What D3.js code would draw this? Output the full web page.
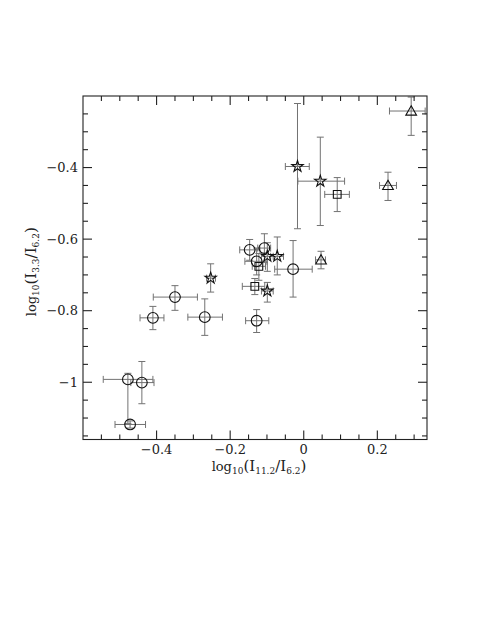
<!DOCTYPE html>
<meta charset="utf-8">
<script src="https://d3js.org/d3.v7.min.js"></script>
<style>
  body { margin: 0; background: #fff; }
  text { font-family: "DejaVu Serif", "Liberation Serif", serif; fill: #222; }
</style>
<div id="my_dataviz"></div>
<script>

// marker type of each object
var markerType = ["tri","star","star","square","tri","tri","circle","circle","circle","circle",
                  "square","star","star","square","star","circle","star","circle","circle","circle",
                  "circle","circle","circle"];
// log10(I11.2/I6.2)
var xVal  = [0.292,-0.017,0.045,0.091,0.229,0.047,-0.029,-0.147,-0.107,-0.128,
             -0.122,-0.099,-0.072,-0.133,-0.099,-0.128,-0.253,-0.269,-0.350,-0.410,
             -0.478,-0.440,-0.472];
var xLow  = [0.233,-0.050,-0.016,0.057,0.206,0.032,-0.079,-0.174,-0.125,-0.160,
             -0.140,-0.115,-0.090,-0.167,-0.115,-0.158,-0.264,-0.315,-0.409,-0.445,
             -0.545,-0.470,-0.513];
var xHigh = [0.330,0.015,0.111,0.124,0.252,0.059,0.023,-0.119,-0.090,-0.100,
             -0.104,-0.083,-0.055,-0.106,-0.083,-0.095,-0.240,-0.221,-0.289,-0.380,
             -0.410,-0.407,-0.430];
// log10(I3.3/I6.2)
var yVal  = [-0.242,-0.397,-0.438,-0.475,-0.450,-0.658,-0.684,-0.630,-0.625,-0.662,
             -0.676,-0.648,-0.648,-0.732,-0.745,-0.828,-0.709,-0.818,-0.762,-0.820,
             -0.992,-1.001,-1.118];
var yLow  = [-0.310,-0.571,-0.562,-0.523,-0.492,-0.683,-0.762,-0.659,-0.665,-0.700,
             -0.715,-0.690,-0.700,-0.755,-0.776,-0.861,-0.748,-0.869,-0.799,-0.853,
             -1.115,-1.060,-1.128];
var yHigh = [-0.203,-0.221,-0.315,-0.428,-0.413,-0.634,-0.604,-0.601,-0.585,-0.625,
             -0.640,-0.610,-0.594,-0.710,-0.721,-0.797,-0.669,-0.767,-0.730,-0.788,
             -0.975,-0.942,-1.108];

var xMajor = [-0.4, -0.2, 0, 0.2];
var yMajor = [-0.4, -0.6, -0.8, -1];

var data = xVal.map(function(d, i) {
  return {type: markerType[i], x: d, y: yVal[i], x0: xLow[i], x1: xHigh[i], y0: yLow[i], y1: yHigh[i]};
});

var W = 480, H = 621;
var frame = {left: 83, right: 427, top: 96, bottom: 439.5};

var svg = d3.select("#my_dataviz").append("svg")
  .attr("width", W).attr("height", H);
svg.append("rect").attr("width", W).attr("height", H).attr("fill", "#fff");

var x = d3.scaleLinear().domain([-0.6, 0.335]).range([frame.left, frame.right]);
var y = d3.scaleLinear().domain([-1.16, -0.2]).range([frame.bottom, frame.top]);

// error bars
var cap = 3.5;
var eb = svg.append("g").attr("stroke", "#727272").attr("stroke-width", 1).attr("fill", "none");
data.forEach(function(d) {
  var cx = x(d.x), cy = y(d.y);
  eb.append("line").attr("x1", x(d.x0)).attr("x2", x(d.x1)).attr("y1", cy).attr("y2", cy);
  eb.append("line").attr("x1", x(d.x0)).attr("x2", x(d.x0)).attr("y1", cy - cap).attr("y2", cy + cap);
  eb.append("line").attr("x1", x(d.x1)).attr("x2", x(d.x1)).attr("y1", cy - cap).attr("y2", cy + cap);
  eb.append("line").attr("x1", cx).attr("x2", cx).attr("y1", y(d.y0)).attr("y2", y(d.y1));
  eb.append("line").attr("x1", cx - cap).attr("x2", cx + cap).attr("y1", y(d.y0)).attr("y2", y(d.y0));
  eb.append("line").attr("x1", cx - cap).attr("x2", cx + cap).attr("y1", y(d.y1)).attr("y2", y(d.y1));
});

// markers
var symbols = {
  circle: d3.symbol().type(d3.symbolCircle).size(90),
  star: d3.symbol().type(d3.symbolStar).size(40),
  square: d3.symbol().type(d3.symbolSquare).size(60),
  tri: d3.symbol().type(d3.symbolTriangle).size(50)
};
svg.append("g").selectAll("path")
  .data(data).enter().append("path")
    .attr("d", function(d) { return symbols[d.type](); })
    .attr("transform", function(d) {
      var dy = d.type == "tri" ? 1 : 0;
      return "translate(" + x(d.x) + "," + (y(d.y) + dy) + ")";
    })
    .attr("fill", "none")
    .attr("stroke", "#111")
    .attr("stroke-width", 1.1);

// frame and ticks on all sides
var ax = svg.append("g").attr("stroke", "#222").attr("stroke-width", 1.1);
ax.append("rect").attr("x", frame.left).attr("y", frame.top)
  .attr("width", frame.right - frame.left).attr("height", frame.bottom - frame.top).attr("fill", "none");

var xTicks = d3.range(-0.55, 0.335, 0.05).map(function(v) { return Math.round(v * 100) / 100; });
var yTicks = d3.range(-1.15, -0.2, 0.05).map(function(v) { return Math.round(v * 100) / 100; });
function isMajor(v, arr) { return arr.some(function(m) { return Math.abs(m - v) < 1e-6; }); }

xTicks.forEach(function(v) {
  var len = isMajor(v, xMajor) ? 9 : 5;
  ax.append("line").attr("x1", x(v)).attr("x2", x(v)).attr("y1", frame.bottom).attr("y2", frame.bottom - len);
  ax.append("line").attr("x1", x(v)).attr("x2", x(v)).attr("y1", frame.top).attr("y2", frame.top + len);
});
yTicks.forEach(function(v) {
  var len = isMajor(v, yMajor) ? 9 : 5;
  ax.append("line").attr("y1", y(v)).attr("y2", y(v)).attr("x1", frame.left).attr("x2", frame.left + len);
  ax.append("line").attr("y1", y(v)).attr("y2", y(v)).attr("x1", frame.right).attr("x2", frame.right - len);
});

function fmt(v) { return (v < 0 ? "\u2212" : "") + Math.abs(v); }

// tick labels
svg.append("g").selectAll("text").data(xMajor).enter().append("text")
  .attr("x", function(d) { return x(d); })
  .attr("y", 453.5)
  .attr("text-anchor", "middle")
  .attr("font-size", 13)
  .text(fmt);

svg.append("g").selectAll("text").data(yMajor).enter().append("text")
  .attr("x", frame.left - 5)
  .attr("y", function(d) { return y(d); })
  .attr("dy", "0.36em")
  .attr("text-anchor", "end")
  .attr("font-size", 13)
  .text(fmt);

// axis labels with subscripts
function label(g, sub1) {
  var t = g.append("text").attr("text-anchor", "middle").attr("font-size", 13);
  t.append("tspan").text("log");
  t.append("tspan").attr("font-size", 9).attr("dy", 3).text("10");
  t.append("tspan").attr("font-size", 15).attr("dy", -3).text("(I");
  t.append("tspan").attr("font-size", 9).attr("dy", 3).text(sub1);
  t.append("tspan").attr("font-size", 15).attr("dy", -3).text("/I");
  t.append("tspan").attr("font-size", 9).attr("dy", 3).text("6.2");
  t.append("tspan").attr("font-size", 15).attr("dy", -3).text(")");
  return t;
}

label(svg.append("g").attr("transform", "translate(" + ((frame.left + frame.right) / 2 + 4) + ",471)"), "11.2");
label(svg.append("g").attr("transform", "translate(36," + ((frame.top + frame.bottom) / 2 + 4) + ") rotate(-90)"), "3.3");

</script>
